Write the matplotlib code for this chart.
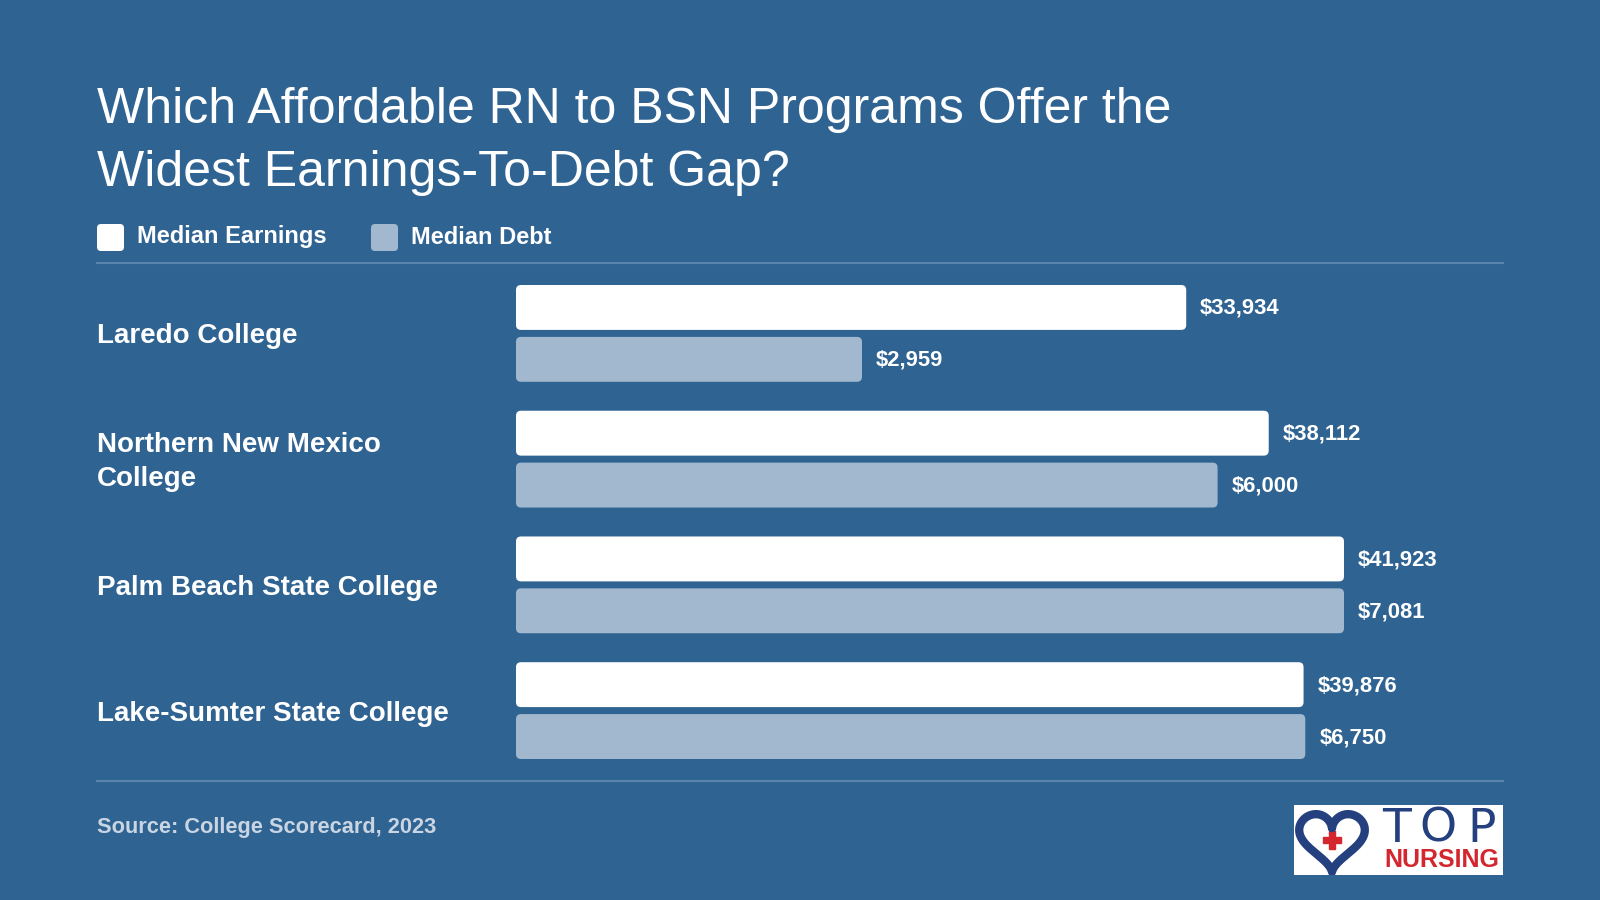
import numpy as np
import matplotlib.pyplot as plt
import matplotlib.transforms as mtransforms
from matplotlib.patches import FancyBboxPatch, Rectangle

# data
colleges = ["Laredo College", "Northern New Mexico\nCollege",
            "Palm Beach State College", "Lake-Sumter State College"]
earnings = [33934, 38112, 41923, 39876]
debt = [2959, 6000, 7081, 6750]
legend_labels = ["Median Earnings", "Median Debt"]
title_lines = ["Which Affordable RN to BSN Programs Offer the",
               "Widest Earnings-To-Debt Gap?"]
source = "Source: College Scorecard, 2023"

BG = "#2f6392"
EARN_C = "#ffffff"
DEBT_C = "#a2b8ce"
LINE_C = "#5a84ae"
SRC_C = "#c9d5e3"
FONT = "Liberation Sans"

W, H = 1600, 900
plt.rcParams['font.family'] = [FONT, 'DejaVu Sans']

fig = plt.figure(figsize=(16, 9), dpi=100, facecolor=BG)


def fx(x):
    return x / W


def fy(y):
    return 1 - y / H


# title
fig.text(fx(97), fy(123), title_lines[0], color="white", fontsize=36,
         va="baseline", ha="left")
fig.text(fx(97), fy(186), title_lines[1], color="white", fontsize=36,
         va="baseline", ha="left")

# legend
px = mtransforms.IdentityTransform()
for (sx, tx), lab, col in zip([(97, 137), (371, 411)], legend_labels, [EARN_C, DEBT_C]):
    sq = FancyBboxPatch((sx, H - 251), 27, 27,
                        boxstyle="round,pad=0,rounding_size=4",
                        transform=px, facecolor=col, edgecolor="none")
    fig.patches.append(sq)
    fig.text(fx(tx), fy(237), lab, color="white", fontsize=17,
             fontweight="bold", va="center", ha="left")

# separator lines
for yy in (263, 781):
    fig.add_artist(plt.Line2D([fx(97), fx(1503)], [fy(yy), fy(yy)],
                              color=LINE_C, lw=1.5, transform=fig.transFigure))

# bar axes
ax_l, ax_r, ax_t, ax_b = 516, 1344, 285, 759
ax = fig.add_axes([fx(ax_l), fy(ax_b), (ax_r - ax_l) / W, (ax_b - ax_t) / H])
ax.set_facecolor("none")
ax2 = ax.twiny()
ax2.set_facecolor("none")

pitch = 126.0
bh = 45 / pitch
off = (45 + 7) / 2 / pitch
pos = np.arange(len(colleges))

ax.set_xlim(0, max(earnings))
ax2.set_xlim(0, max(debt))
ax.set_ylim(len(colleges) - 1 + off + bh / 2, -off - bh / 2)

b1 = ax.barh(pos - off, earnings, height=bh, color=EARN_C)
b2 = ax2.barh(pos + off, debt, height=bh, color=DEBT_C)


def round_bars(a, bars, r_px):
    x0, x1 = a.get_xlim()
    y0, y1 = a.get_ylim()
    bb = a.get_position()
    xpp = abs(x1 - x0) / (bb.width * W)
    ypp = abs(y1 - y0) / (bb.height * H)
    for b in bars:
        b.set_visible(False)
        p = FancyBboxPatch((b.get_x(), b.get_y()), b.get_width(), b.get_height(),
                           boxstyle=f"round,pad=0,rounding_size={r_px * xpp}",
                           mutation_aspect=ypp / xpp,
                           facecolor=b.get_facecolor(), edgecolor="none")
        a.add_patch(p)


round_bars(ax, b1, 5)
round_bars(ax2, b2, 5)

for a, vals, shift in ((ax, earnings, -off), (ax2, debt, off)):
    for i, v in enumerate(vals):
        a.annotate(f"${v:,}", (v, i + shift), xytext=(14, -1),
                   textcoords="offset pixels", color="white", fontsize=15.8,
                   fontweight="bold", va="center", ha="left",
                   annotation_clip=False)

for a in (ax, ax2):
    a.set_xticks([])
    a.set_yticks([])
    for s in a.spines.values():
        s.set_visible(False)

# category labels
tr = mtransforms.blended_transform_factory(fig.transFigure, ax.transData)
for i, name in enumerate(colleges):
    ax.annotate(name, (fx(97), i), xycoords=tr, xytext=(0, -3),
                textcoords="offset pixels", color="white", fontsize=20,
                fontweight="bold", va="center", ha="left", linespacing=1.38)

# source
fig.text(fx(97), fy(828), source, color=SRC_C, fontsize=15.7,
         fontweight="bold", va="center", ha="left")

# logo
lg = fig.add_axes([fx(1294), fy(875), 209 / W, 70 / H])
lg.set_facecolor("white")
lg.set_xlim(0, 209)
lg.set_ylim(0, 70)
lg.set_xticks([])
lg.set_yticks([])
for s in lg.spines.values():
    s.set_visible(False)
t = np.linspace(0, 2 * np.pi, 300)
hx = 16 * np.sin(t) ** 3
hy = 13 * np.cos(t) - 5 * np.cos(2 * t) - 2 * np.cos(3 * t) - np.cos(4 * t)
lg.plot(38 + hx * 2.05, 37 + hy * 2.0, color="#24407f", lw=6,
        solid_capstyle="round")
lg.add_patch(Rectangle((29, 32), 18, 6, color="#d3262e"))
lg.add_patch(Rectangle((35, 26), 6, 18, color="#d3262e"))
for ch, cx in zip("TOP", (103, 144, 188)):
    lg.text(cx, 46, ch, color="#24407f", fontsize=34, ha="center",
            va="center", family="DejaVu Sans")
lg.text(148, 15, "NURSING", color="#d3262e", fontsize=18, ha="center",
        va="center", fontweight="bold")

fig.savefig("out.png", dpi=100, facecolor=BG)
